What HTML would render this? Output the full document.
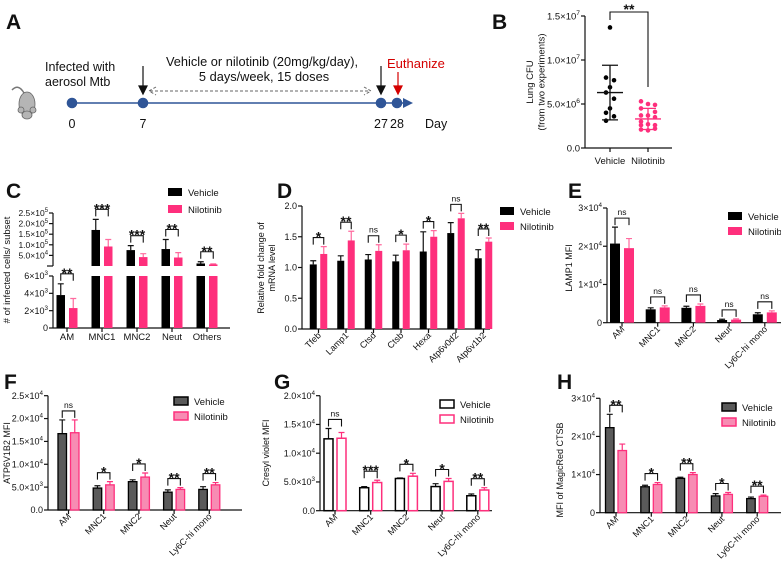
<!DOCTYPE html>
<html><head><meta charset="utf-8"><style>
html,body{margin:0;padding:0;background:#fff;}
svg{display:block;font-family:"Liberation Sans",Arial,sans-serif;}
</style></head><body>
<svg id="fig" width="781" height="563" viewBox="0 0 781 563" xmlns="http://www.w3.org/2000/svg"></svg>
<script>
// ---------- DATA ----------
const B_groups=["Vehicle","Nilotinib"];
const B_veh=[13.7e6,8.0e6,7.7e6,6.9e6,6.3e6,5.6e6,4.5e6,4.0e6,3.6e6,3.1e6];
const B_nil=[5.3e6,5.0e6,4.9e6,4.5e6,4.1e6,3.7e6,3.7e6,3.5e6,3.0e6,2.7e6,2.6e6,2.6e6,2.2e6,2.0e6,2.1e6];
const B_vehMean=6.3e6, B_vehSD=3.1e6, B_nilMean=3.3e6, B_nilSD=1.2e6;
const B_ticks=[0,5e6,1e7,1.5e7];
const B_tickLabels=["0.0","5.0×10^6","1.0×10^7","1.5×10^7"];

const C_cats=["AM","MNC1","MNC2","Neut","Others"];
const C_veh=[3800,170000,75000,80000,12000];
const C_vehErr=[5100,220000,96000,125000,20000];
const C_nil=[2300,92000,42000,40000,7500];
const C_nilErr=[3400,125000,58000,63000,10000];
const C_sig=["**","***","***","**","**"];
const C_ticksUp=[50000,100000,150000,200000,250000];
const C_labelsUp=["5.0×10^4","1.0×10^5","1.5×10^5","2.0×10^5","2.5×10^5"];
const C_ticksLow=[0,2000,4000,6000];
const C_labelsLow=["0","2×10^3","4×10^3","6×10^3"];

const D_cats=["Tfeb","Lamp1","Ctsd","Ctsb","Hexa","Atp6v0d2","Atp6v1b2"];
const D_veh=[1.05,1.11,1.13,1.10,1.26,1.56,1.15];
const D_vehErr=[1.11,1.19,1.21,1.20,1.58,1.73,1.29];
const D_nil=[1.22,1.44,1.27,1.28,1.50,1.80,1.42];
const D_nilErr=[1.34,1.59,1.37,1.38,1.60,1.88,1.48];
const D_sig=["*","**","ns","*","*","ns","**"];
const D_ticks=[0,0.5,1,1.5,2];
const D_labels=["0.0","0.5","1.0","1.5","2.0"];

const E_cats=["AM","MNC1","MNC2","Neut","Ly6C-hi mono"];
const E_veh=[20700,3500,3900,700,2200];
const E_vehErr=[25000,3900,4300,900,2600];
const E_nil=[19500,4000,4400,800,2700];
const E_nilErr=[22000,4400,4900,1000,3100];
const E_sig=["ns","ns","ns","ns","ns"];
const E_ticks=[0,10000,20000,30000];
const E_labels=["0","1×10^4","2×10^4","3×10^4"];

const F_cats=["AM","MNC1","MNC2","Neut","Ly6C-hi mono"];
const F_veh=[16700,4800,6200,3900,4500];
const F_vehErr=[19700,5300,6600,4400,5100];
const F_nil=[16900,5500,7200,4500,5500];
const F_nilErr=[19700,6200,8100,4900,6000];
const F_sig=["ns","*","*","**","**"];
const F_ticks=[0,5000,10000,15000,20000,25000];
const F_labels=["0.0","5.0×10^3","1.0×10^4","1.5×10^4","2.0×10^4","2.5×10^4"];

const G_cats=["AM","MNC1","MNC2","Neut","Ly6C-hi mono"];
const G_veh=[12500,4000,5600,4200,2600];
const G_vehErr=[14300,4200,5700,4700,2900];
const G_nil=[12600,4900,6000,5100,3600];
const G_nilErr=[13600,5300,6500,5600,4000];
const G_sig=["ns","***","*","*","**"];
const G_ticks=[0,5000,10000,15000,20000];
const G_labels=["0.0","5.0×10^3","1.0×10^4","1.5×10^4","2.0×10^4"];

const H_cats=["AM","MNC1","MNC2","Neut","Ly6C-hi mono"];
const H_veh=[22300,6800,9000,4400,3700];
const H_vehErr=[25800,7200,9300,5000,4100];
const H_nil=[16300,7400,10000,4800,4300];
const H_nilErr=[18000,7900,10500,5300,4600];
const H_sig=["**","*","**","*","**"];
const H_ticks=[0,10000,20000,30000];
const H_labels=["0","1×10^4","2×10^4","3×10^4"];

// ---------- HELPERS ----------
const NS='http://www.w3.org/2000/svg';
const svg=document.getElementById('fig');
const PINK='#fe2f7c';
const TICK_FS=9;
function mk(tag,attrs,parent){const e=document.createElementNS(NS,tag);for(const k in attrs)e.setAttribute(k,attrs[k]);(parent||svg).appendChild(e);return e;}
function txt(s,x,y,size,anchor,parent,extra){
  const t=mk('text',Object.assign({x:x,y:y,'font-size':size,'text-anchor':anchor||'start',fill:'#111'},extra||{}),parent);
  const parts=String(s).split('^');
  t.appendChild(document.createTextNode(parts[0]));
  if(parts[1]!==undefined){const sp=mk('tspan',{'font-size':size*0.7,dy:-size*0.45},t);sp.textContent=parts[1];}
  return t;
}
function group(parent){return mk('g',{},parent);}

function yAxis(g,x,yA,yB,ticks,labels,ys,fs){
  const l=mk('line',{x1:x,y1:yA,x2:x,y2:yB,stroke:'#111','stroke-width':1.2},g);
  
  
  const f=fs||TICK_FS;
  ticks.forEach((v,i)=>{
    const y=ys(v);
    const tk=mk('line',{x1:x-4,y1:y,x2:x,y2:y,stroke:'#111','stroke-width':1.2},g);
    
    
    const t=txt(labels[i],x-5,y+f*0.35,f,'end',g);
    
    
  });
}
function legend(g,x,y,style,gap){
  const items=[['Vehicle',0],['Nilotinib',1]];
  items.forEach(([name,k])=>{
    const yy=y+k*(gap||15);
    let fill,stroke;
    if(style==='solid'){fill=k?PINK:'#000';stroke=fill;}
    else if(style==='gray'){fill=k?'#f78cb3':'#5a5a5a';stroke=k?PINK:'#000';}
    else {fill='#fff';stroke=k?PINK:'#000';}
    const r=mk('rect',{x:x,y:yy,width:14,height:8,fill:fill,stroke:stroke,'stroke-width':style==='solid'?0:1.5},g);
    
    
    const t=txt(name,x+20,yy+8,9.5,'start',g);
    
    
  });
}
function bracket(g,x1,x2,y,sig){
  const p=mk('path',{d:`M${x1},${y+7}V${y}H${x2}V${y+7}`,fill:'none',stroke:'#111','stroke-width':1.1},g);
  
  
  let t;
  if(sig==='ns') t=txt('ns',(x1+x2)/2,y-3,8.5,'middle',g);
  else t=txt(sig,(x1+x2)/2,y+4,14,'middle',g,{'font-weight':'bold'});
  
  
}
function bar(g,x,w,yTop,yBot,style,k,name){
  let fill,stroke,sw;
  if(style==='solid'){fill=k?PINK:'#000';stroke='none';sw=0;}
  else if(style==='gray'){fill=k?'#f78cb3':'#5a5a5a';stroke=k?PINK:'#000';sw=1.3;}
  else {fill='#fff';stroke=k?PINK:'#000';sw=1.5;}
  const r=mk('rect',{x:x,y:Math.min(yTop,yBot),width:w,height:Math.abs(yBot-yTop),fill:fill,stroke:stroke,'stroke-width':sw},g);
  
  
}
function errBar(g,cx,yFrom,yTo,style,k){
  const c=k?(style==='solid'?'#ff6b9f':PINK):'#111';
  const p=mk('path',{d:`M${cx},${yFrom}V${yTo}M${cx-3},${yTo}H${cx+3}`,stroke:c,'stroke-width':1.2,fill:'none'},g);
  
  
}
function xLabel(g,s,x,y,rot){
  let t;
  if(rot){t=txt(s,x+3,y+7,9,'end',g,{transform:`rotate(-45 ${x+3} ${y+7})`});}
  else t=txt(s,x,y+12,9.5,'middle',g);
  
  
}
function yTitle(g,lines,x,y,fs){
  lines.forEach((s,i)=>{
    const xx=x+i*(fs+2);
    const t=txt(s,xx,y,fs,'middle',g,{transform:`rotate(-90 ${xx} ${y})`});
    
    
  });
}
function panelLetter(s,x,y){
  const t=txt(s,x,y,21,'start',svg,{'font-weight':'bold'});
  
  
}

function barChart(p){
  const g=group();
  
  
  const ys=v=>p.y0-(v/p.vMax)*(p.y0-p.yTop);
  yAxis(g,p.ax,p.yTop,p.y0,p.ticks,p.labels,ys);
  const xl=mk('line',{x1:p.ax,y1:p.y0,x2:p.xEnd,y2:p.y0,stroke:'#111','stroke-width':1.2},g);
  
  
  p.cats.forEach((c,i)=>{
    const cx=p.first+i*p.step;
    const xv=cx-p.gap/2-p.bw, xn=cx+p.gap/2;
    errBar(g,xv+p.bw/2,ys(p.veh[i]),ys(p.vehErr[i]),p.style,0);
    errBar(g,xn+p.bw/2,ys(p.nil[i]),ys(p.nilErr[i]),p.style,1);
    bar(g,xv,p.bw,ys(p.veh[i]),p.y0,p.style,0,'bar-vehicle-'+c.toLowerCase());
    bar(g,xn,p.bw,ys(p.nil[i]),p.y0,p.style,1,'bar-nilotinib-'+c.toLowerCase());
    const tk=mk('line',{x1:cx,y1:p.y0,x2:cx,y2:p.y0+4,stroke:'#111','stroke-width':1.2},g);
    
    
    xLabel(g,c,cx,p.y0,p.rot);
    const top=Math.min(ys(p.vehErr[i]),ys(p.nilErr[i]));
    bracket(g,xv+p.bw/2,xn+p.bw/2,top-9,p.sig[i]);
  });
  legend(g,p.lx,p.ly,p.style);
  yTitle(g,p.title,p.tx,p.ty,9);
}

// ---------- PANEL A ----------
panelLetter('A',6,29);
(function(){
  const g=group();
  
  
  const m=group(g);
  
  
  mk('path',{d:'M24,93 C20,86 16,86 12,90',fill:'none',stroke:'#777','stroke-width':1.5},m);
  mk('ellipse',{cx:27,cy:104,rx:8,ry:12,fill:'#b5b5b5',stroke:'#666','stroke-width':0.8},m);
  mk('circle',{cx:21,cy:110,r:3,fill:'#b5b5b5',stroke:'#666','stroke-width':0.8},m);
  mk('circle',{cx:33,cy:110,r:3,fill:'#b5b5b5',stroke:'#666','stroke-width':0.8},m);
  mk('ellipse',{cx:27,cy:115,rx:5,ry:4,fill:'#b5b5b5',stroke:'#666','stroke-width':0.8},m);
  const ln=mk('line',{x1:72,y1:103,x2:405,y2:103,stroke:'#2f5597','stroke-width':1.6},g);
  
  
  const ah=mk('path',{d:'M403,98 L413,103 L403,108 Z',fill:'#2f5597'},g);
  
  
  [[72,'0'],[143,'7'],[381,'27'],[397,'28']].forEach(([x,l])=>{
    const c=mk('circle',{cx:x,cy:103,r:5.3,fill:'#2f5597'},g);
    
    
    const t=txt(l,x,128,12.5,'middle',g);
    
    
  });
  let t=txt('Day',425,128,12.5,'start',g);
  t=txt('Infected with',45,71,12.5,'start',g);
  t=txt('aerosol Mtb',45,86,12.5,'start',g);
  t=txt('Vehicle or nilotinib (20mg/kg/day),',262,66,12.8,'middle',g);
  t=txt('5 days/week, 15 doses',264,81,12.8,'middle',g);
  t=txt('Euthanize',387,68,13,'start',g,{fill:'#d40000'});
  const d=mk('path',{d:'M150,91 H370 M156,87 L149,91 L156,95 M364,87 L371,91 L364,95',fill:'none',stroke:'#666','stroke-width':1,'stroke-dasharray':'3,2'},g);
  
  [[143,'#111'],[381,'#111'],[398,'#d40000']].forEach(([x,c])=>{
    const a=mk('path',{d:`M${x},${x===398?72:66} V88 M${x-4},86 L${x},94 L${x+4},86 Z`,stroke:c,fill:c,'stroke-width':1.2},g);
    
  });
})();

// ---------- PANEL B ----------
panelLetter('B',492,29);
(function(){
  const g=group();
  
  
  const ax=585,y0=148,yT=16,vMax=1.5e7;
  const ys=v=>y0-(v/vMax)*(y0-yT);
  yAxis(g,ax,yT,y0,B_ticks,B_tickLabels,ys,9.5);
  const xl=mk('line',{x1:ax,y1:y0,x2:672,y2:y0,stroke:'#111','stroke-width':1.2},g);
  
  const cx=[610,648];
  const jv=[0,-4,4,0,-4,4,0,-4,4,-4];
  const jn=[-7,0,7,-7,7,-7,0,7,-7,0,7,-7,7,0,-7];
  B_groups.forEach((n,i)=>{
    const tk=mk('line',{x1:cx[i],y1:y0,x2:cx[i],y2:y0+4,stroke:'#111','stroke-width':1.2},g);
    
    const t=txt(n,cx[i],y0+16,9.5,'middle',g);
    
  });
  B_veh.forEach((v,i)=>{const c=mk('circle',{cx:cx[0]+jv[i],cy:ys(v),r:2.3,fill:'#000'},g);
    });
  B_nil.forEach((v,i)=>{const c=mk('circle',{cx:cx[1]+jn[i],cy:ys(v),r:2.3,fill:PINK},g);
    });
  [[0,B_vehMean,B_vehSD,'#111'],[1,B_nilMean,B_nilSD,PINK]].forEach(([i,m,s,c])=>{
    const x=cx[i];
    const p=mk('path',{d:`M${x-13},${ys(m)}H${x+13} M${x},${ys(m-s)}V${ys(m+s)} M${x-8},${ys(m-s)}H${x+8} M${x-8},${ys(m+s)}H${x+8}`,stroke:c,'stroke-width':1.3,fill:'none'},g);
    
  });
  const br=mk('path',{d:`M610,20V12H648V87`,stroke:'#111','stroke-width':1.1,fill:'none'},g);
  
  const st=txt('**',629,14,14,'middle',g,{'font-weight':'bold'});
  
  yTitle(g,['Lung CFU','(from two experiments)'],533,82,9.5);
})();

// ---------- PANEL C ----------
panelLetter('C',6,198);
(function(){
  const g=group();
  
  
  const ax=53, y0=328, yLowTop=276, brk=6000, yUpBase=266, upPer=10.6/5e4;
  const yLow=v=>y0-(Math.min(v,brk)/brk)*(y0-yLowTop);
  const yUp=v=>yUpBase-v*upPer;
  const ys=v=>v<=brk?yLow(v):yUp(v);
  yAxis(g,ax,yLowTop,y0,C_ticksLow,C_labelsLow,yLow,9);
  yAxis(g,ax,yUp(250000),yUpBase,C_ticksUp,C_labelsUp,yUp,8.5);
  const bt=mk('line',{x1:ax-6,y1:yUpBase,x2:ax,y2:yUpBase,stroke:'#111','stroke-width':1.2},g);
  
  const xl=mk('line',{x1:ax,y1:y0,x2:230,y2:y0,stroke:'#111','stroke-width':1.2},g);
  
  const first=67,step=35,bw=8.5,gap=4;
  C_cats.forEach((c,i)=>{
    const cx=first+i*step, xs=[cx-gap/2-bw,cx+gap/2];
    [[C_veh[i],C_vehErr[i]],[C_nil[i],C_nilErr[i]]].forEach(([v,e],k)=>{
      errBar(g,xs[k]+bw/2,ys(v),ys(e),'solid',k);
      bar(g,xs[k],bw,yLow(v),y0,'solid',k,'bar-'+(k?'nilotinib':'vehicle')+'-'+c.toLowerCase());
      if(v>brk) bar(g,xs[k],bw,yUp(v),yUpBase,'solid',k,'bar-upper-'+(k?'nilotinib':'vehicle')+'-'+c.toLowerCase());
    });
    const tk=mk('line',{x1:cx,y1:y0,x2:cx,y2:y0+4,stroke:'#111','stroke-width':1.2},g);
    
    xLabel(g,c,cx,y0,false);
    const top=Math.min(ys(C_vehErr[i]),ys(C_nilErr[i]));
    bracket(g,xs[0]+bw/2,xs[1]+bw/2,top-10,C_sig[i]);
  });
  legend(g,168,188,'solid',17);
  yTitle(g,['# of infected cells/ subset'],10,270,9.5);
})();

// ---------- PANELS D–H ----------
panelLetter('D',277,198);
barChart({name:'mrna-fold-change-chart',ax:302,y0:329,yTop:206,vMax:2,xEnd:490,first:318.5,step:27.5,bw:7,gap:3.5,
  cats:D_cats,veh:D_veh,vehErr:D_vehErr,nil:D_nil,nilErr:D_nilErr,sig:D_sig,ticks:D_ticks,labels:D_labels,
  style:'solid',rot:true,lx:500,ly:207,title:['Relative fold change of','mRNA level'],tx:264,ty:268});

panelLetter('E',568,198);
barChart({name:'lamp1-mfi-chart',ax:607,y0:322.7,yTop:208,vMax:30000,xEnd:781,first:622,step:35.7,bw:10,gap:4,
  cats:E_cats,veh:E_veh,vehErr:E_vehErr,nil:E_nil,nilErr:E_nilErr,sig:E_sig,ticks:E_ticks,labels:E_labels,
  style:'solid',rot:true,lx:728,ly:212,title:['LAMP1 MFI'],tx:572,ty:268});

panelLetter('F',4,389);
barChart({name:'atp6v1b2-mfi-chart',ax:48,y0:510,yTop:395.7,vMax:25000,xEnd:242,first:68.5,step:35.2,bw:8.5,gap:4,
  cats:F_cats,veh:F_veh,vehErr:F_vehErr,nil:F_nil,nilErr:F_nilErr,sig:F_sig,ticks:F_ticks,labels:F_labels,
  style:'gray',rot:true,lx:174,ly:397,title:['ATP6V1B2 MFI'],tx:10,ty:453});

panelLetter('G',274,389);
barChart({name:'cresyl-violet-mfi-chart',ax:320,y0:510.7,yTop:395.7,vMax:20000,xEnd:492,first:335,step:35.7,bw:9,gap:4,
  cats:G_cats,veh:G_veh,vehErr:G_vehErr,nil:G_nil,nilErr:G_nilErr,sig:G_sig,ticks:G_ticks,labels:G_labels,
  style:'open',rot:true,lx:440,ly:400,title:['Cresyl violet MFI'],tx:269,ty:453});

panelLetter('H',557,389);
barChart({name:'magicred-ctsb-mfi-chart',ax:600,y0:512.7,yTop:398.3,vMax:30000,xEnd:781,first:616,step:35.3,bw:8.5,gap:4,
  cats:H_cats,veh:H_veh,vehErr:H_vehErr,nil:H_nil,nilErr:H_nilErr,sig:H_sig,ticks:H_ticks,labels:H_labels,
  style:'gray',rot:true,lx:722,ly:403,title:['MFI of MagicRed CTSB'],tx:563,ty:470});
</script>
</body></html>
